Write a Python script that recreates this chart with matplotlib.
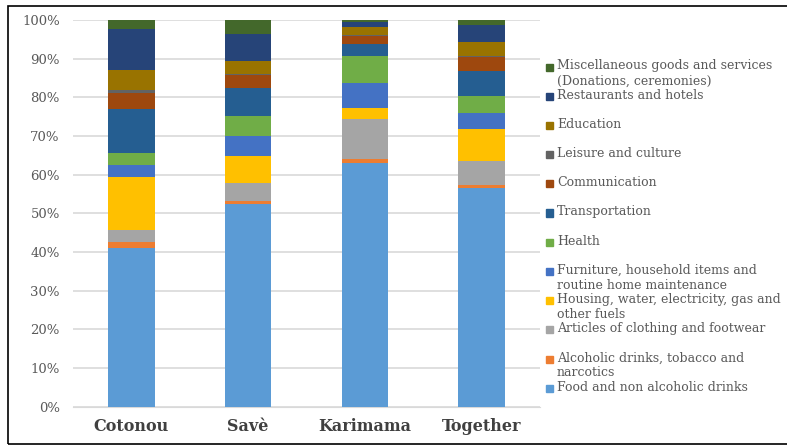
import matplotlib.pyplot as plt
from matplotlib.patches import Rectangle

# spending shares (%), bottom to top of each bar
places = ['Cotonou', 'Savè', 'Karimama', 'Together']

food = [41.1, 52.3, 62.9, 56.5]
alcohol = [1.4, 0.9, 1.1, 0.8]
clothing = [3.2, 4.5, 10.3, 6.2]
housing = [13.6, 7.2, 3.0, 8.2]
furniture = [3.2, 5.1, 6.4, 4.2]
health = [3.2, 5.2, 7.0, 4.4]
transport = [11.2, 7.3, 3.0, 6.5]
communication = [4.1, 3.2, 2.2, 3.5]
leisure = [0.9, 0.3, 0.2, 0.4]
education = [5.2, 3.5, 2.2, 3.5]
restaurants = [10.6, 6.8, 1.1, 4.6]
misc = [2.3, 3.7, 0.6, 1.2]

labels = ['Food and non alcoholic drinks',
          'Alcoholic drinks, tobacco and\nnarcotics',
          'Articles of clothing and footwear',
          'Housing, water, electricity, gas and\nother fuels',
          'Furniture, household items and\nroutine home maintenance',
          'Health', 'Transportation', 'Communication', 'Leisure and culture',
          'Education', 'Restaurants and hotels',
          'Miscellaneous goods and services\n(Donations, ceremonies)']
colors = ['#5B9BD5', '#ED7D31', '#A5A5A5', '#FFC000', '#4472C4', '#70AD47',
          '#255E91', '#9E480E', '#636363', '#997300', '#264478', '#43682B']
series = [food, alcohol, clothing, housing, furniture, health, transport,
          communication, leisure, education, restaurants, misc]

plt.rcParams['font.family'] = ['DejaVu Serif']

fig = plt.figure(figsize=(7.87, 4.46), dpi=100)
ax = fig.add_axes([73/787, 1-406.5/446, 467/787, 386.5/446])

x = range(len(places))
bottom = [0]*len(places)
for vals, c in zip(series, colors):
    fracs = [v/100 for v in vals]
    ax.bar(x, fracs, width=0.4, bottom=bottom, color=c, zorder=3)
    bottom = [b+f for b, f in zip(bottom, fracs)]

ax.set_xlim(-0.5, 3.5)
ax.set_ylim(0, 1)
ax.set_yticks([i/10 for i in range(11)])
ax.set_yticklabels(['%d%%' % (i*10) for i in range(11)], fontsize=9.5, color='#595959')
ax.set_xticks(list(x))
ax.set_xticklabels(places, fontsize=11.5, fontweight='bold', color='#404040')
ax.tick_params(axis='y', length=0, pad=9.5)
ax.tick_params(axis='x', length=0, pad=8)
ax.yaxis.grid(True, color='#D9D9D9', lw=1.2, zorder=0)
for s in ax.spines.values():
    s.set_visible(False)
ax.spines['bottom'].set_visible(True)
ax.spines['bottom'].set_color('#D9D9D9')

# legend drawn by hand, top entry first like the reference
for i, (lab, c) in enumerate(zip(labels[::-1], colors[::-1])):
    y = 67 + 29.2*i
    fig.patches.append(Rectangle((546/787, 1-(y+3.5)/446), 7/787, 7/446,
                                 transform=fig.transFigure, color=c))
    fig.text(557/787, 1-(y-7.5)/446, lab, fontsize=9.0, color='#595959',
             va='top', ha='left', linespacing=1.2)

fig.patches.append(Rectangle((8/787, 1-444/446), 800/787, 438/446,
                             transform=fig.transFigure, fill=False,
                             edgecolor='black', lw=1.2))

fig.savefig('out.png', dpi=100)
